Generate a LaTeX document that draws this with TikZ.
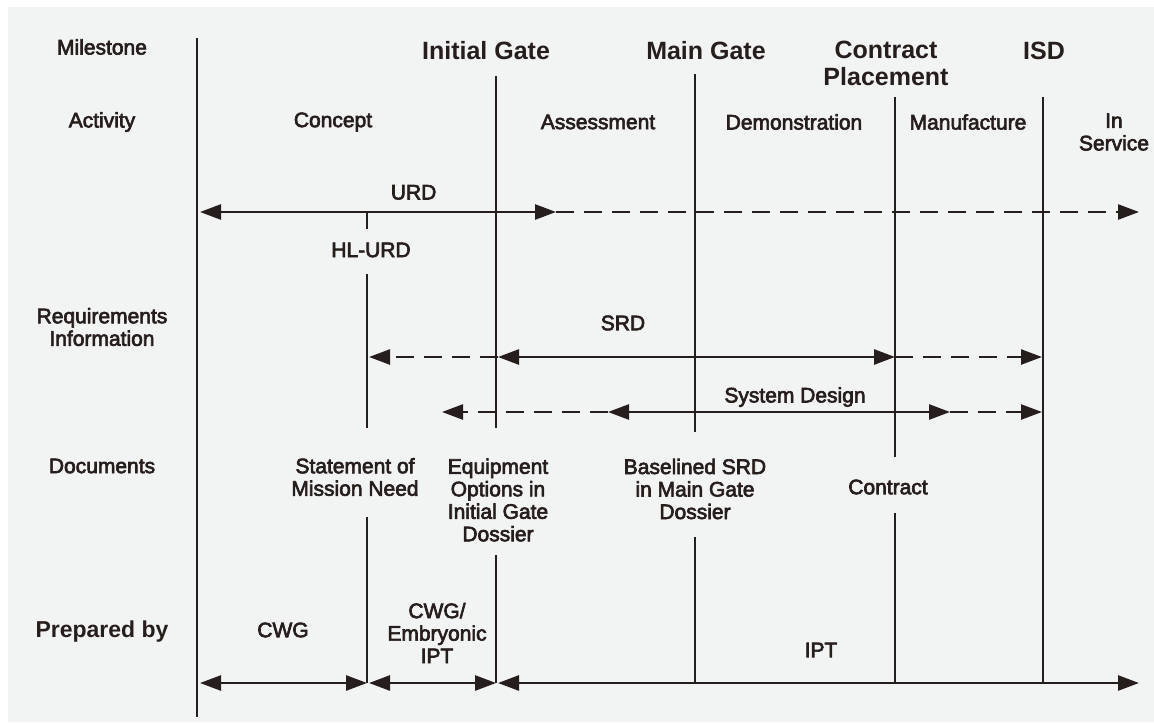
\documentclass[tikz,border=0pt]{standalone}
\usepackage{fontspec}
\setmainfont{Liberation Sans}
\newfontfamily\scanfont[FakeBold=3]{Liberation Sans}
\usetikzlibrary{arrows.meta}
\definecolor{scan}{RGB}{242,243,243}
\definecolor{ink}{RGB}{38,30,28}

\begin{document}
\begin{tikzpicture}[x=1pt,y=-1pt,
    every node/.style={text=ink, align=center, inner sep=0pt},
    lbl/.style={font=\scanfont\fontsize{21}{22.5}\selectfont},
    gate/.style={font=\fontsize{25}{27}\selectfont\bfseries},
    phase/.style={draw=ink, line width=1.6pt},
    span/.style={draw=ink, line width=2.6pt,
      {Triangle[length=21pt,width=15pt]}-{Triangle[length=21pt,width=15pt]}},
    ahead/.style={draw=ink, line width=2.4pt, dash pattern=on 18pt off 10pt,
      -{Triangle[length=21pt,width=15pt]}}]
  \useasboundingbox (0,0) rectangle (1154,723);
  \fill[white] (0,0) rectangle (1154,723);
  \fill[scan] (8,7) rectangle (1154,722);

  % row headings
  \node[lbl] (milestone) at (102,47) {Milestone};
  \node[lbl] (activity) at (102,122) {Activity};
  \node[lbl] (reqinfo) at (102,327) {Requirements\\Information};
  \node[lbl] (documents) at (102,466) {Documents};
  \node[gate, font=\fontsize{23}{25}\selectfont\bfseries] (prepared) at (102,632) {Prepared by};

  % milestones
  \node[gate] (initgate) at (486,51) {Initial Gate};
  \node[gate] (maingate) at (706,51) {Main Gate};
  \node[gate] (contract) at (886,63) {Contract\\Placement};
  \node[gate] (isd) at (1044,51) {ISD};

  % activities
  \node[lbl] (concept) at (333,122) {Concept};
  \node[lbl] (assess) at (598,122) {Assessment};
  \node[lbl] (demo) at (794,122) {Demonstration};
  \node[lbl] (manuf) at (968,122) {Manufacture};
  \node[lbl] (inserv) at (1114,132) {In\\Service};

  % documents
  \node[lbl] (smn) at (355,477) {Statement of\\Mission Need};
  \node[lbl] (equip) at (498,500) {Equipment\\Options in\\Initial Gate\\Dossier};
  \node[lbl] (basesrd) at (695,489) {Baselined SRD\\in Main Gate\\Dossier};
  \node[lbl] (contdoc) at (888,487) {Contract};

  % phase boundaries
  \draw[phase] (197,38) -- (197,717);
  \draw[phase] (496,76) -- (496,428) (496,555) -- (496,683);
  \draw[phase] (367,212) -- (367,229) (367,274) -- (367,428) (367,517) -- (367,683);
  \draw[phase] (695,74) -- (695,432) (695,537) -- (695,683);
  \draw[phase] (895,97) -- (895,457) (895,513) -- (895,683);
  \draw[phase] (1043,97) -- (1043,683);

  % requirements information
  \coordinate (urdL) at (200,212);
  \coordinate (urdM) at (556,212);
  \coordinate (urdR) at (1139,212);
  \draw[span] (urdL) -- (urdM) node[lbl, pos=0.6, above=11pt] (urd) {URD};
  \draw[ahead] (urdM) -- (urdR);
  \node[lbl] (hlurd) at (371,250) {HL-URD};

  \coordinate (srdL) at (369,357);
  \coordinate (srdA) at (498,357);
  \coordinate (srdB) at (895,357);
  \coordinate (srdR) at (1042,357);
  \draw[ahead] (srdA) -- (srdL);
  \draw[span] (srdA) -- (srdB);
  \draw[ahead] (srdB) -- (srdR);
  \node[lbl] (srd) at (623,323) {SRD};

  \coordinate (sdL) at (442,412);
  \coordinate (sdA) at (608,412);
  \coordinate (sdB) at (950,412);
  \coordinate (sdR) at (1042,412);
  \draw[ahead] (sdA) -- (sdL);
  \draw[span] (sdA) -- (sdB);
  \draw[ahead] (sdB) -- (sdR);
  \node[lbl] (sysdes) at (795,397) {System Design};

  % prepared by
  \coordinate (pbA) at (200,683);
  \coordinate (pbB) at (367,683);
  \coordinate (pbC) at (369,683);
  \coordinate (pbD) at (496,683);
  \coordinate (pbE) at (498,683);
  \coordinate (pbF) at (1139,683);
  \draw[span] (pbA) -- (pbB);
  \draw[span] (pbC) -- (pbD);
  \draw[span] (pbE) -- (pbF);
  \node[lbl] (cwg) at (283,630) {CWG};
  \node[lbl] (embipt) at (437,633) {CWG/\\Embryonic\\IPT};
  \node[lbl] (ipt) at (821,650) {IPT};
\end{tikzpicture}
\end{document}
